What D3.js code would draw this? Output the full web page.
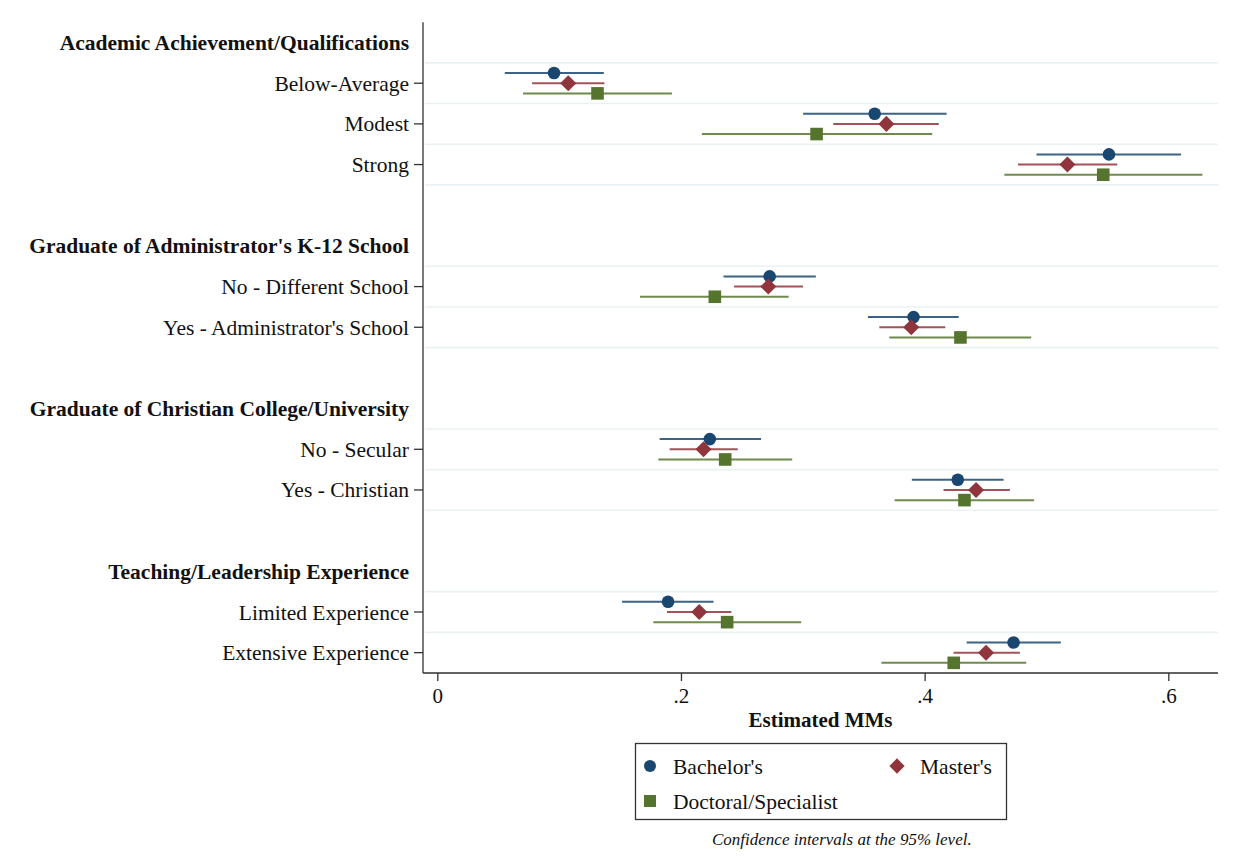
<!DOCTYPE html>
<html>
<head>
<meta charset="utf-8">
<script src="https://cdn.jsdelivr.net/npm/d3@7/dist/d3.min.js"></script>
<style>
  html, body { margin: 0; padding: 0; background: #ffffff; }
  svg { display: block; }
  text { font-family: "Liberation Serif", "Times New Roman", serif; fill: #111; }
</style>
</head>
<body>
<svg id="chart" width="1247" height="856"></svg>
<script>
// Attribute groups and their levels (top to bottom)
const groupTitles = [
  "Academic Achievement/Qualifications",
  "Graduate of Administrator's K-12 School",
  "Graduate of Christian College/University",
  "Teaching/Leadership Experience"
];
const groupLevels = [
  ["Below-Average", "Modest", "Strong"],
  ["No - Different School", "Yes - Administrator's School"],
  ["No - Secular", "Yes - Christian"],
  ["Limited Experience", "Extensive Experience"]
];

// Estimated marginal means with 95% confidence bounds, one entry per level
const bachelorEst = [0.0958, 0.3590, 0.5513, 0.2728, 0.3909, 0.2237, 0.4272, 0.1894, 0.4730];
const bachelorLo  = [0.0554, 0.3003, 0.4918, 0.2349, 0.3535, 0.1825, 0.3895, 0.1517, 0.4345];
const bachelorHi  = [0.1367, 0.4180, 0.6105, 0.3107, 0.4280, 0.2657, 0.4648, 0.2267, 0.5118];

const masterEst = [0.1075, 0.3686, 0.5172, 0.2717, 0.3890, 0.2185, 0.4422, 0.2150, 0.4504];
const masterLo  = [0.0778, 0.3250, 0.4766, 0.2436, 0.3628, 0.1907, 0.4155, 0.1885, 0.4237];
const masterHi  = [0.1372, 0.4116, 0.5581, 0.3001, 0.4169, 0.2466, 0.4700, 0.2414, 0.4782];

const doctoralEst = [0.1315, 0.3113, 0.5466, 0.2278, 0.4294, 0.2363, 0.4327, 0.2379, 0.4239];
const doctoralLo  = [0.0704, 0.2172, 0.4654, 0.1664, 0.3710, 0.1814, 0.3754, 0.1773, 0.3645];
const doctoralHi  = [0.1926, 0.4062, 0.6280, 0.2884, 0.4875, 0.2913, 0.4899, 0.2987, 0.4834];

const xTicks = [0, 0.2, 0.4, 0.6];
const xTickLabels = ["0", ".2", ".4", ".6"];

const seriesNames = ["Bachelor's", "Master's", "Doctoral/Specialist"];
const seriesColors = ["#1a476f", "#90353b", "#55752f"];
const seriesShapes = ["circle", "diamond", "square"];

// Build row layout: a header row, its levels, then a spacer row between groups
const rows = [];
let levelIndex = 0;
groupTitles.forEach((title, g) => {
  rows.push({ type: "header", label: title });
  groupLevels[g].forEach(lv => {
    rows.push({ type: "level", label: lv, idx: levelIndex++ });
  });
  if (g < groupTitles.length - 1) rows.push({ type: "spacer" });
});
rows.forEach((r, i) => r.row = i);

const series = [
  { est: bachelorEst, lo: bachelorLo, hi: bachelorHi },
  { est: masterEst, lo: masterLo, hi: masterHi },
  { est: doctoralEst, lo: doctoralLo, hi: doctoralHi }
];

const svg = d3.select("#chart");
const plotLeft = 423, plotRight = 1218, plotTop = 22.2, plotBottom = 673;

const x = d3.scaleLinear().domain([0, 0.6]).range([437.3, 1168.3]);
const y = d3.scaleLinear().domain([-0.5, rows.length - 0.5]).range([plotTop, plotBottom]);
const rowH = y(1) - y(0);
const offset = d3.scaleLinear().domain([0, 2]).range([-rowH / 4, rowH / 4]);

// Grid lines bounding each level row
const gridYs = [];
rows.filter(r => r.type === "level").forEach(r => {
  gridYs.push(r.row - 0.5);
  gridYs.push(r.row + 0.5);
});
const uniqGrid = Array.from(new Set(gridYs.map(v => v.toFixed(2)))).map(Number);
svg.append("g").selectAll("line").data(uniqGrid).join("line")
  .attr("x1", plotLeft + 2).attr("x2", plotRight)
  .attr("y1", d => y(d)).attr("y2", d => y(d))
  .attr("stroke", "#eaf1f4").attr("stroke-width", 1.6);

// Axes
svg.append("line").attr("x1", plotLeft).attr("x2", plotLeft)
  .attr("y1", plotTop).attr("y2", plotBottom)
  .attr("stroke", "#333").attr("stroke-width", 1.3);
svg.append("line").attr("x1", plotLeft).attr("x2", plotRight)
  .attr("y1", plotBottom).attr("y2", plotBottom)
  .attr("stroke", "#333").attr("stroke-width", 1.3);

const xAxis = d3.axisBottom(x).tickValues(xTicks)
  .tickFormat((d, i) => xTickLabels[i]).tickSize(8).tickPadding(7);
const gx = svg.append("g").attr("transform", `translate(0,${plotBottom})`).call(xAxis);
gx.select(".domain").remove();
gx.selectAll(".tick line").attr("stroke", "#333").attr("stroke-width", 1.3);
gx.selectAll(".tick text").attr("font-size", 21)
  .attr("font-family", "Liberation Serif, serif").attr("fill", "#111");

// Row labels and ticks
const labelG = svg.append("g");
rows.forEach(r => {
  if (r.type === "spacer") return;
  const yy = y(r.row);
  if (r.type === "level") {
    labelG.append("line").attr("x1", plotLeft - 9).attr("x2", plotLeft)
      .attr("y1", yy).attr("y2", yy).attr("stroke", "#333").attr("stroke-width", 1.3);
  }
  labelG.append("text")
    .attr("x", 409).attr("y", yy).attr("dy", "0.35em")
    .attr("text-anchor", "end")
    .attr("font-size", r.type === "header" ? 21.5 : 21.5)
    .attr("font-weight", r.type === "header" ? "bold" : "normal")
    .text(r.label);
});

// Marker shapes: circle, diamond (rotated square), square
function marker(sel, shape, size) {
  if (shape === "circle") {
    return sel.append("circle").attr("r", size);
  }
  const side = shape === "diamond" ? size * 1.8 : size * 2;
  return sel.append("rect")
    .attr("x", -side / 2).attr("y", -side / 2)
    .attr("width", side).attr("height", side)
    .attr("transform", shape === "diamond" ? "rotate(45)" : null);
}

// Confidence intervals and point estimates
const levelRows = rows.filter(r => r.type === "level");
series.forEach((s, si) => {
  const g = svg.append("g");
  levelRows.forEach(r => {
    const yy = y(r.row) + offset(si);
    g.append("line")
      .attr("x1", x(s.lo[r.idx])).attr("x2", x(s.hi[r.idx]))
      .attr("y1", yy).attr("y2", yy)
      .attr("stroke", seriesColors[si]).attr("stroke-width", 2).attr("stroke-opacity", 0.85);
  });
  levelRows.forEach(r => {
    const yy = y(r.row) + offset(si);
    const mg = g.append("g").attr("transform", `translate(${x(s.est[r.idx])},${yy})`);
    marker(mg, seriesShapes[si], si === 0 ? 6.3 : 6.3).attr("fill", seriesColors[si]);
  });
});

// Axis title
svg.append("text").attr("x", (plotLeft + plotRight) / 2).attr("y", 727)
  .attr("text-anchor", "middle").attr("font-size", 21).attr("font-weight", "bold")
  .text("Estimated MMs");

// Legend
const lg = svg.append("g");
lg.append("rect").attr("x", 635.5).attr("y", 743.5).attr("width", 371).attr("height", 76)
  .attr("fill", "#fff").attr("stroke", "#333").attr("stroke-width", 1.3);
const legendPos = [
  { mx: 650, ty: 766, tx: 673 },
  { mx: 897, ty: 766, tx: 920 },
  { mx: 650, ty: 801, tx: 673 }
];
seriesNames.forEach((name, i) => {
  const p = legendPos[i];
  const mg = lg.append("g").attr("transform", `translate(${p.mx},${p.ty})`);
  marker(mg, seriesShapes[i], 6).attr("fill", seriesColors[i]);
  lg.append("text").attr("x", p.tx).attr("y", p.ty).attr("dy", "0.35em")
    .attr("font-size", 21.5).text(name);
});

// Note
svg.append("text").attr("x", 712).attr("y", 845)
  .attr("font-size", 17).attr("font-style", "italic").text("Confidence intervals at the 95% level.");
</script>
</body>
</html>
